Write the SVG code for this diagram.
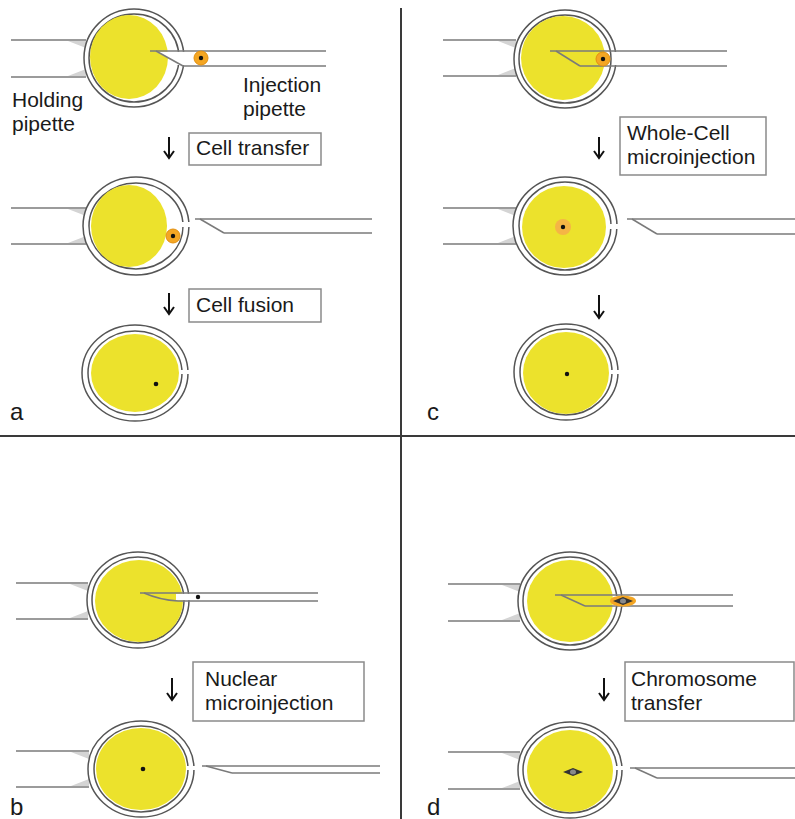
<svg xmlns="http://www.w3.org/2000/svg" width="795" height="819" viewBox="0 0 795 819">
  <style>
    .pip { stroke: #7a7a7a; stroke-width: 1.5; fill: none; }
    .pipfill { fill: #ffffff; stroke: none; }
    .wedge { fill: #d4d4d4; stroke: none; }
    .zona { fill: #ffffff; stroke: #555555; stroke-width: 1.5; }
    .zin { fill: none; stroke: #555555; stroke-width: 1.5; }
    .cyto { fill: #ece22c; stroke: none; }
    .donor { fill: #f4a623; stroke: #e3900f; stroke-width: 1; }
    .dot { fill: #111111; }
    .gap { fill: #ffffff; stroke: none; }
    .box { fill: #ffffff; stroke: #8a8a8a; stroke-width: 1.5; }
    .lbl { font-family: "Liberation Sans", Arial, sans-serif; font-size: 21px; fill: #1a1a1a; }
    .tag { font-family: "Liberation Sans", Arial, sans-serif; font-size: 24px; fill: #1a1a1a; }
    .arr { stroke: #111111; stroke-width: 2; fill: none; }
    .div { stroke: #3a3a3a; stroke-width: 2; }
  </style>

  <!-- panel dividers -->
  <g id="dividers">
    <line class="div" x1="401" y1="8" x2="401" y2="819"/>
    <line class="div" x1="0" y1="436" x2="795" y2="436"/>
  </g>

  <!-- ===== panel a ===== -->
  <g id="a-cell1">
    <line class="pip" x1="11" y1="40" x2="86" y2="40"/>
    <line class="pip" x1="11" y1="77" x2="86" y2="77"/>
    <polygon class="wedge" points="68,41 86,41 86,48"/>
    <polygon class="wedge" points="68,76 86,76 86,69"/>
    <ellipse class="zona" cx="134" cy="58" rx="50" ry="49"/>
    <ellipse class="zin" cx="134" cy="58" rx="45" ry="44"/>
    <ellipse class="cyto" cx="129" cy="57" rx="39" ry="42"/>
    <polygon class="pipfill" points="156,51.7 326,51.7 326,65.3 183,65.3"/>
    <rect class="pipfill" x="176" y="52" width="12" height="13"/>
    <line class="pip" x1="150" y1="51" x2="326" y2="51"/>
    <line class="pip" x1="156" y1="51" x2="183" y2="66"/>
    <line class="pip" x1="183" y1="66" x2="326" y2="66"/>
    <circle class="donor" cx="201" cy="58" r="7"/>
    <circle class="dot" cx="201" cy="58" r="2.2"/>
    <text class="lbl" x="12" y="107" font-size="20.5">Holding</text>
    <text class="lbl" x="12" y="131" font-size="20.5">pipette</text>
    <text class="lbl" x="243" y="92" font-size="20.5">Injection</text>
    <text class="lbl" x="243" y="116" font-size="20.5">pipette</text>
  </g>

  <g id="a-step1">
    <path class="arr" d="M169,137 V158 M164,151 L169,158 L174,151"/>
    <rect class="box" x="189" y="133" width="132" height="32"/>
    <text class="lbl" x="196" y="155" font-size="19.5">Cell transfer</text>
  </g>

  <g id="a-cell2">
    <line class="pip" x1="11" y1="208" x2="86" y2="208"/>
    <line class="pip" x1="11" y1="244" x2="86" y2="244"/>
    <polygon class="wedge" points="68,209 86,209 86,216"/>
    <polygon class="wedge" points="68,243 86,243 86,236"/>
    <ellipse class="zona" cx="136" cy="226" rx="53" ry="49"/>
    <ellipse class="zin" cx="136" cy="226" rx="47" ry="43"/>
    <ellipse class="cyto" cx="129" cy="226" rx="38" ry="41"/>
    <rect class="gap" x="180" y="222" width="12" height="5"/>
    <circle class="donor" cx="173" cy="236" r="7"/>
    <circle class="dot" cx="173" cy="236" r="2.2"/>
    <line class="pip" x1="195" y1="219" x2="372" y2="219"/>
    <line class="pip" x1="200" y1="219" x2="224" y2="233"/>
    <line class="pip" x1="224" y1="233" x2="372" y2="233"/>
  </g>

  <g id="a-step2">
    <path class="arr" d="M169,293 V314 M164,307 L169,314 L174,307"/>
    <rect class="box" x="189" y="289" width="132" height="33"/>
    <text class="lbl" x="196" y="312" font-size="20.5">Cell fusion</text>
  </g>

  <g id="a-cell3">
    <ellipse class="zona" cx="135" cy="373" rx="53" ry="48"/>
    <ellipse class="zin" cx="135" cy="373" rx="47" ry="42"/>
    <ellipse class="cyto" cx="135" cy="373" rx="44" ry="39"/>
    <rect class="gap" x="180" y="370" width="10" height="4"/>
    <circle class="dot" cx="156" cy="384" r="2.3"/>
    <text class="tag" x="10" y="420">a</text>
  </g>

  <!-- ===== panel c ===== -->
  <g id="c-cell1">
    <line class="pip" x1="443" y1="40" x2="516" y2="40"/>
    <line class="pip" x1="443" y1="76" x2="516" y2="76"/>
    <polygon class="wedge" points="498,41 516,41 516,48"/>
    <polygon class="wedge" points="498,75 516,75 516,68"/>
    <ellipse class="zona" cx="565" cy="59" rx="51" ry="49"/>
    <ellipse class="zin" cx="565" cy="59" rx="46" ry="44"/>
    <ellipse class="cyto" cx="563" cy="58" rx="42" ry="42"/>
    <line class="pip" x1="550" y1="51" x2="727" y2="51"/>
    <line class="pip" x1="556" y1="51" x2="580" y2="66"/>
    <line class="pip" x1="580" y1="66" x2="727" y2="66"/>
    <rect class="pipfill" x="614" y="52" width="113" height="13"/>
    <circle class="donor" cx="603" cy="59" r="7"/>
    <circle class="dot" cx="603" cy="59" r="2.2"/>
  </g>

  <g id="c-step1">
    <path class="arr" d="M599,137 V158 M594,151 L599,158 L604,151"/>
    <rect class="box" x="620" y="117" width="146" height="58"/>
    <text class="lbl" x="627" y="140">Whole-Cell</text>
    <text class="lbl" x="627" y="164">microinjection</text>
  </g>

  <g id="c-cell2">
    <line class="pip" x1="443" y1="208" x2="516" y2="208"/>
    <line class="pip" x1="443" y1="244" x2="516" y2="244"/>
    <polygon class="wedge" points="498,209 516,209 516,216"/>
    <polygon class="wedge" points="498,243 516,243 516,236"/>
    <ellipse class="zona" cx="565" cy="226" rx="52" ry="49"/>
    <ellipse class="zin" cx="565" cy="226" rx="46" ry="44"/>
    <ellipse class="cyto" cx="564" cy="227" rx="42" ry="41"/>
    <rect class="gap" x="608" y="224" width="12" height="5"/>
    <circle cx="563" cy="227" r="8" fill="#f5b545"/>
    <circle class="dot" cx="563" cy="227" r="2.2"/>
    <line class="pip" x1="627" y1="219" x2="795" y2="219"/>
    <line class="pip" x1="632" y1="219" x2="657" y2="234"/>
    <line class="pip" x1="657" y1="234" x2="795" y2="234"/>
  </g>

  <g id="c-step2">
    <path class="arr" d="M599,295 V318 M594,311 L599,318 L604,311"/>
  </g>

  <g id="c-cell3">
    <ellipse class="zona" cx="566" cy="372" rx="52" ry="48"/>
    <ellipse class="zin" cx="566" cy="372" rx="46" ry="43"/>
    <ellipse class="cyto" cx="566" cy="373" rx="43" ry="41"/>
    <rect class="gap" x="609" y="370" width="12" height="4"/>
    <circle class="dot" cx="567" cy="374" r="2.2"/>
    <text class="tag" x="427" y="420">c</text>
  </g>

  <!-- ===== panel b ===== -->
  <g id="b-cell1">
    <line class="pip" x1="16" y1="583" x2="88" y2="583"/>
    <line class="pip" x1="16" y1="619" x2="88" y2="619"/>
    <polygon class="wedge" points="70,584 88,584 88,591"/>
    <polygon class="wedge" points="70,618 88,618 88,611"/>
    <ellipse class="zona" cx="138" cy="600" rx="51" ry="48"/>
    <ellipse class="zin" cx="138" cy="600" rx="46" ry="43"/>
    <ellipse class="cyto" cx="139" cy="601" rx="44" ry="41"/>
    <path class="pipfill" d="M176,593.7 H318 V600.3 H176 Z"/>
    <line class="pip" x1="140" y1="593" x2="318" y2="593"/>
    <path class="pip" d="M144,593 Q160,600 178,601"/>
    <line class="pip" x1="178" y1="601" x2="318" y2="601"/>
    <circle class="dot" cx="198" cy="597" r="2.2"/>
  </g>

  <g id="b-step1">
    <path class="arr" d="M172,678 V700 M167,693 L172,700 L177,693"/>
    <rect class="box" x="193" y="662" width="171" height="59"/>
    <text class="lbl" x="205" y="686">Nuclear</text>
    <text class="lbl" x="205" y="710">microinjection</text>
  </g>

  <g id="b-cell2">
    <line class="pip" x1="16" y1="751" x2="89" y2="751"/>
    <line class="pip" x1="16" y1="787" x2="89" y2="787"/>
    <polygon class="wedge" points="71,752 89,752 89,759"/>
    <polygon class="wedge" points="71,786 89,786 89,779"/>
    <ellipse class="zona" cx="141" cy="769" rx="53" ry="48"/>
    <ellipse class="zin" cx="141" cy="769" rx="47" ry="43"/>
    <ellipse class="cyto" cx="141" cy="769" rx="45" ry="41"/>
    <rect class="gap" x="186" y="766" width="12" height="4"/>
    <circle class="dot" cx="143" cy="769" r="2.3"/>
    <line class="pip" x1="202" y1="766" x2="380" y2="766"/>
    <line class="pip" x1="206" y1="766" x2="232" y2="773"/>
    <line class="pip" x1="232" y1="773" x2="380" y2="773"/>
    <text class="tag" x="10" y="815">b</text>
  </g>

  <!-- ===== panel d ===== -->
  <g id="d-cell1">
    <line class="pip" x1="448" y1="584" x2="520" y2="584"/>
    <line class="pip" x1="448" y1="621" x2="520" y2="621"/>
    <polygon class="wedge" points="502,585 520,585 520,592"/>
    <polygon class="wedge" points="502,620 520,620 520,613"/>
    <ellipse class="zona" cx="570" cy="601" rx="52" ry="49"/>
    <ellipse class="zin" cx="570" cy="601" rx="47" ry="44"/>
    <ellipse class="cyto" cx="570" cy="601" rx="43" ry="41"/>
    <rect class="pipfill" x="613" y="596" width="120" height="9"/>
    <line class="pip" x1="555" y1="595" x2="733" y2="595"/>
    <line class="pip" x1="561" y1="595" x2="585" y2="606"/>
    <line class="pip" x1="585" y1="606" x2="733" y2="606"/>
    <ellipse cx="623" cy="601" rx="13" ry="5.5" fill="#f4a623"/>
    <polygon points="613,601 623,597 633,601 623,605" fill="#333333"/>
    <ellipse cx="623" cy="601" rx="3" ry="2.5" fill="#8a8a8a"/>
  </g>

  <g id="d-step1">
    <path class="arr" d="M604,678 V700 M599,693 L604,700 L609,693"/>
    <rect class="box" x="625" y="662" width="169" height="59"/>
    <text class="lbl" x="631" y="686">Chromosome</text>
    <text class="lbl" x="631" y="710">transfer</text>
  </g>

  <g id="d-cell2">
    <line class="pip" x1="448" y1="752" x2="520" y2="752"/>
    <line class="pip" x1="448" y1="789" x2="520" y2="789"/>
    <polygon class="wedge" points="502,753 520,753 520,760"/>
    <polygon class="wedge" points="502,788 520,788 520,781"/>
    <ellipse class="zona" cx="570" cy="770" rx="52" ry="48"/>
    <ellipse class="zin" cx="570" cy="770" rx="47" ry="43"/>
    <ellipse class="cyto" cx="570" cy="771" rx="43" ry="41"/>
    <rect class="gap" x="614" y="766" width="12" height="4"/>
    <polygon points="563,772 573,768 583,772 573,776" fill="#333333"/>
    <ellipse cx="573" cy="772" rx="3" ry="2.5" fill="#8a8a8a"/>
    <line class="pip" x1="630" y1="768" x2="795" y2="768"/>
    <line class="pip" x1="635" y1="768" x2="657" y2="778"/>
    <line class="pip" x1="657" y1="778" x2="795" y2="778"/>
    <text class="tag" x="427" y="815">d</text>
  </g>
</svg>
